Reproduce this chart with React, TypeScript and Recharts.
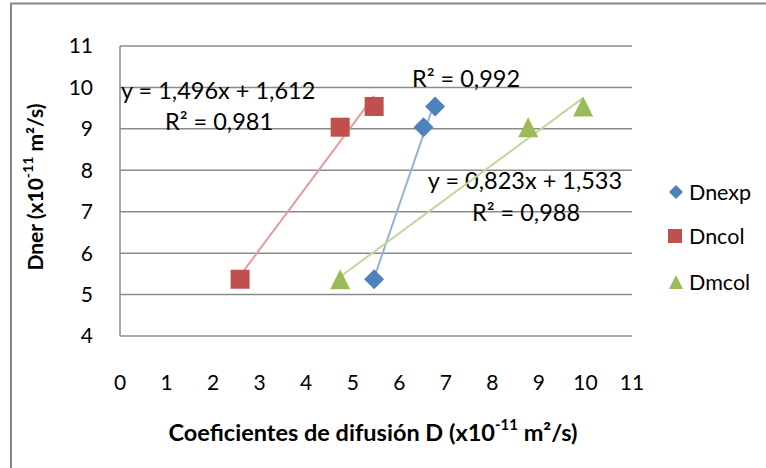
import React from 'react'
import { CartesianGrid, ReferenceLine, Scatter, ScatterChart, XAxis, YAxis } from 'recharts'

// values
const dner = [5.37, 9.04, 9.54]
const dnexp = [5.46, 6.52, 6.77]
const dncol = [2.58, 4.73, 5.46]
const dmcol = [4.73, 8.77, 9.95]
const seriesNames = ['Dnexp', 'Dncol', 'Dmcol']
const xTicks = [0, 1, 2, 3, 4, 5, 6, 7, 8, 9, 10, 11]
const yTicks = [4, 5, 6, 7, 8, 9, 10, 11]

const FONT = 'Lato, "Open Sans", sans-serif'
const colors = ['#4F81BD', '#C0504D', '#9BBB59']
const trendColors = ['#95B3D7', '#E59C9A', '#C3D69B']

const toPoints = (xs: number[], ys: number[]) => xs.map((x, i) => ({ x, y: ys[i] }))

// least squares fit, drawn from min x to max x like an Excel trendline
const trend = (xs: number[], ys: number[]) => {
    const n = xs.length
    const mx = xs.reduce((a, b) => a + b, 0) / n
    const my = ys.reduce((a, b) => a + b, 0) / n
    let sxy = 0
    let sxx = 0
    xs.forEach((x, i) => {
        sxy += (x - mx) * (ys[i] - my)
        sxx += (x - mx) * (x - mx)
    })
    const b = sxy / sxx
    const a = my - b * mx
    const x0 = Math.min(...xs)
    const x1 = Math.max(...xs)
    return [{ x: x0, y: a + b * x0 }, { x: x1, y: a + b * x1 }]
}

const Diamond = (props: any) => {
    const { cx, cy } = props
    const r = 10
    return <polygon points={`${cx},${cy - r} ${cx + r},${cy} ${cx},${cy + r} ${cx - r},${cy}`} fill={colors[0]} />
}
const Square = (props: any) => {
    const { cx, cy } = props
    return <rect x={cx - 9.5} y={cy - 9.5} width={19} height={19} fill={colors[1]} />
}
const Triangle = (props: any) => {
    const { cx, cy } = props
    return <polygon points={`${cx},${cy - 10} ${cx + 10},${cy + 10} ${cx - 10},${cy + 10}`} fill={colors[2]} />
}

const series = [
    { name: seriesNames[0], xs: dnexp, shape: Diamond },
    { name: seriesNames[1], xs: dncol, shape: Square },
    { name: seriesNames[2], xs: dmcol, shape: Triangle },
]

const textStyle = { fontFamily: FONT, fill: '#000' }

const Annotations = () => (
    <g style={textStyle}>
        <text x={121} y={90} fontSize={23.5} dominantBaseline="central">y = 1,496x + 1,612</text>
        <text x={219} y={121} fontSize={23.5} textAnchor="middle" dominantBaseline="central">R² = 0,981</text>
        <text x={466} y={78} fontSize={23.5} textAnchor="middle" dominantBaseline="central">R² = 0,992</text>
        <text x={525} y={180} fontSize={23.5} textAnchor="middle" dominantBaseline="central">y = 0,823x + 1,533</text>
        <text x={526} y={212} fontSize={23.5} textAnchor="middle" dominantBaseline="central">R² = 0,988</text>
    </g>
)

const Titles = () => (
    <g style={textStyle} fontWeight="bold">
        <text x={373} y={432} fontSize={23.5} textAnchor="middle" dominantBaseline="central">
            Coeficientes de difusión D (x10<tspan fontSize={15} dy={-8}>-11</tspan><tspan dy={8}> m²/s)</tspan>
        </text>
        <text x={34} y={187} fontSize={21} textAnchor="middle" dominantBaseline="central" transform="rotate(-90, 34, 187)">
            Dner (x10<tspan fontSize={14} dy={-7}>-11</tspan><tspan dy={7}> m²/s)</tspan>
        </text>
    </g>
)

const LegendBox = () => (
    <g style={textStyle}>
        <polygon points="676,185 683,192 676,199 669,192" fill={colors[0]} />
        <text x={689} y={192} fontSize={21.5} dominantBaseline="central">{seriesNames[0]}</text>
        <rect x={668} y={229} width={14} height={14} fill={colors[1]} />
        <text x={689} y={236} fontSize={21.5} dominantBaseline="central">{seriesNames[1]}</text>
        <polygon points="676,275 683,289 669,289" fill={colors[2]} />
        <text x={689} y={282} fontSize={21.5} dominantBaseline="central">{seriesNames[2]}</text>
    </g>
)

const App: React.FC = () => {
    return (
        <div style={{ position: 'absolute', left: 0, top: 0, width: 766, height: 468, background: '#fff' }}>
            <ScatterChart width={766} height={468} margin={{ top: 46, right: 134, bottom: 72, left: 60 }}>
                <path d="M11 468 V3.5 H766" fill="none" stroke="#878787" strokeWidth={2} />
                <CartesianGrid vertical={false} stroke="#8a8a8a" strokeWidth={1.5} />
                <XAxis
                    type="number"
                    dataKey="x"
                    domain={[0, 11]}
                    ticks={xTicks}
                    axisLine={false}
                    tickLine={false}
                    tickSize={0}
                    tickMargin={39}
                    height={60}
                    interval={0}
                    tick={{ fontSize: 21, fill: '#000', fontFamily: FONT }}
                />
                <YAxis
                    type="number"
                    dataKey="y"
                    domain={[4, 11]}
                    ticks={yTicks}
                    axisLine={{ stroke: '#8a8a8a', strokeWidth: 1.5 }}
                    tickLine={false}
                    tickSize={0}
                    tickMargin={27}
                    width={60}
                    interval={0}
                    tick={{ fontSize: 21, fill: '#000', fontFamily: FONT }}
                />
                {series.map(s => (
                    <Scatter
                        key={s.name}
                        name={s.name}
                        data={toPoints(s.xs, dner)}
                        shape={s.shape}
                        isAnimationActive={false}
                    />
                ))}
                {series.map((s, i) => (
                    <ReferenceLine
                        key={`t-${s.name}`}
                        segment={trend(s.xs, dner)}
                        stroke={trendColors[i]}
                        strokeWidth={2}
                        ifOverflow="visible"
                    />
                ))}
                <Annotations />
                <Titles />
                <LegendBox />
            </ScatterChart>
        </div>
    )
}

export default App
